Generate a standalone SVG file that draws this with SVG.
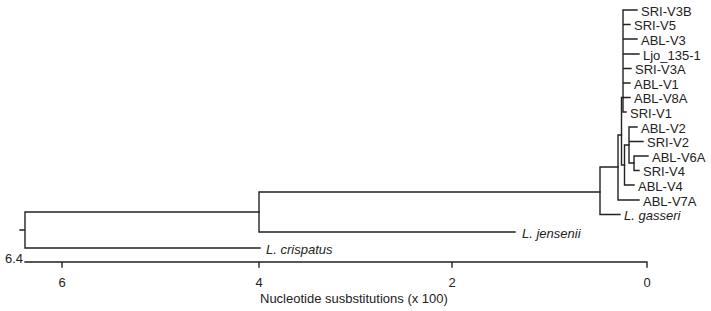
<svg xmlns="http://www.w3.org/2000/svg" width="711" height="311" viewBox="0 0 711 311">
<style>
.e{fill:none;stroke:#222;stroke-width:1.4;stroke-linecap:square}
.t{font-family:"Liberation Sans",Arial,sans-serif;font-size:13px;fill:#222}
.i{font-style:italic}
.m{text-anchor:middle}
</style>
<rect width="711" height="311" fill="#fff"/>
<g id="connectors" class="e">
<path d="M623 10V112M623 10H637M623 24.5H630M623 39H637M623 54H639M623 68.5H631M623 83H630M623 97.5H630M623 112H626"/>
<path d="M634 156V170.5M634 156H648M634 170.5H639"/>
<path d="M629 127V163M629 127H637M629 141.5H643M629 163H634"/>
<path d="M624.5 145V185M624.5 145H629M624.5 185H634"/>
<path d="M621.5 97.5V165M621.5 97.5H623M621.5 165H624.5"/>
<path d="M618 135V200M618 135H621.5M618 200H639"/>
<path d="M600 167V214.5M600 167H618M600 214.5H620"/>
<path d="M259 192V232M259 192H600M259 232H515"/>
<path d="M25 212V248M25 212H259M25 248H260M20 230H25"/>
</g>
<g id="leaves" class="t">
<g id="n-sri-v3b"><text x="641" y="15.5">SRI-V3B</text></g>
<g id="n-sri-v5"><text x="634" y="30">SRI-V5</text></g>
<g id="n-abl-v3"><text x="641" y="44.5">ABL-V3</text></g>
<g id="n-ljo"><text x="643" y="59.5">Ljo_135-1</text></g>
<g id="n-sri-v3a"><text x="635" y="74">SRI-V3A</text></g>
<g id="n-abl-v1"><text x="634" y="88.5">ABL-V1</text></g>
<g id="n-abl-v8a"><text x="634" y="103">ABL-V8A</text></g>
<g id="n-sri-v1"><text x="630" y="117.5">SRI-V1</text></g>
<g id="n-abl-v2"><text x="641" y="132.5">ABL-V2</text></g>
<g id="n-sri-v2"><text x="647" y="147">SRI-V2</text></g>
<g id="n-abl-v6a"><text x="652" y="161.5">ABL-V6A</text></g>
<g id="n-sri-v4"><text x="643" y="176">SRI-V4</text></g>
<g id="n-abl-v4"><text x="638" y="190.5">ABL-V4</text></g>
<g id="n-abl-v7a"><text x="643" y="205.5">ABL-V7A</text></g>
<g id="n-gasseri"><text class="i" x="624" y="220">L. gasseri</text></g>
<g id="n-jensenii"><text class="i" x="522" y="237.5">L. jensenii</text></g>
<g id="n-crispatus"><text class="i" x="266" y="253.5">L. crispatus</text></g>
</g>
<g id="axis">
<path class="e" d="M25 262H647M62 262V267M259 262V267M452 262V267M647 262V267"/>
<text class="t" x="23" y="263" text-anchor="end">6.4</text>
<text class="t m" x="62" y="287">6</text>
<text class="t m" x="259" y="287">4</text>
<text class="t m" x="452" y="287">2</text>
<text class="t m" x="647" y="287">0</text>
<text class="t" x="260" y="303">Nucleotide susbstitutions (x 100)</text>
</g>
</svg>
